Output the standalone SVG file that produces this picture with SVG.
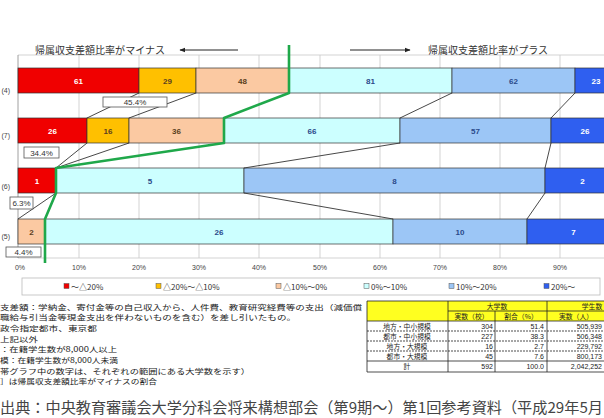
<svg xmlns="http://www.w3.org/2000/svg" width="604" height="418" viewBox="0 0 604 418">
<style>
.jp{font-family:"Noto Sans CJK JP","Noto Sans",sans-serif;}
.num{font-family:"Liberation Sans",Arial,sans-serif;}
.grid{stroke:#c8c8c8;stroke-width:0.8;}
.seg{stroke:#333;stroke-width:0.7;}
.r{fill:#f00000;}.y{fill:#ffc000;}.p{fill:#fbc9a2;}.c{fill:#ccffff;}.lb{fill:#9cc6f6;}.db{fill:#2f5ff0;}
.bt{font-family:"Liberation Sans",Arial,sans-serif;font-size:8px;font-weight:bold;text-anchor:middle;}
.w{fill:#fff;}.dk{fill:#5a4020;}.bl{fill:#2a4a8a;}
.conn{stroke:#333;stroke-width:0.9;fill:none;}
.pbox{fill:#fff;stroke:#555;stroke-width:0.8;}
.pt{font-family:"Liberation Sans",Arial,sans-serif;font-size:8px;fill:#333;text-anchor:middle;}
.ax{font-family:"Liberation Sans",Arial,sans-serif;font-size:7px;fill:#444;text-anchor:middle;}
.note{font-family:"Noto Sans CJK JP",sans-serif;font-size:7.3px;fill:#222;}
.tt{font-family:"Noto Sans CJK JP",sans-serif;font-size:6.8px;fill:#222;}
.tn{font-family:"Liberation Sans",Arial,sans-serif;font-size:7px;fill:#222;text-anchor:end;}
.tl{stroke:#222;stroke-width:0.8;}
.td{stroke:#222;stroke-width:0.8;stroke-dasharray:2,1;}
.lg{font-family:"Noto Sans CJK JP",sans-serif;font-size:8px;fill:#333;}
</style>
<defs>
<marker id="ah" viewBox="0 0 10 10" refX="9" refY="5" markerWidth="6" markerHeight="6" orient="auto-start-reverse">
<path d="M0,1 L10,5 L0,9 z" fill="#222"/>
</marker>
</defs>
<rect width="604" height="418" fill="#fff"/>

<g id="grid">
<line class="grid" x1="18" y1="55" x2="604" y2="55"/>
<line class="grid" x1="18" y1="258" x2="604" y2="258"/>
<line x1="18" y1="55" x2="18" y2="258" stroke="#888" stroke-width="0.8"/>
<line class="grid" x1="79" y1="55" x2="79" y2="258"/>
<line class="grid" x1="139" y1="55" x2="139" y2="258"/>
<line class="grid" x1="199" y1="55" x2="199" y2="258"/>
<line class="grid" x1="259" y1="55" x2="259" y2="258"/>
<line class="grid" x1="320" y1="55" x2="320" y2="258"/>
<line class="grid" x1="380" y1="55" x2="380" y2="258"/>
<line class="grid" x1="440" y1="55" x2="440" y2="258"/>
<line class="grid" x1="500" y1="55" x2="500" y2="258"/>
<line class="grid" x1="560" y1="55" x2="560" y2="258"/>
</g>

<g id="axis-labels">
<text class="ax" x="20" y="270">0%</text>
<text class="ax" x="79" y="270">10%</text>
<text class="ax" x="139" y="270">20%</text>
<text class="ax" x="199" y="270">30%</text>
<text class="ax" x="259" y="270">40%</text>
<text class="ax" x="320" y="270">50%</text>
<text class="ax" x="380" y="270">60%</text>
<text class="ax" x="440" y="270">70%</text>
<text class="ax" x="500" y="270">80%</text>
<text class="ax" x="560" y="270">90%</text>
</g>

<g id="row-labels" class="num" font-size="7" fill="#444" text-anchor="end">
<text x="10" y="93">(4)</text>
<text x="10" y="138">(7)</text>
<text x="10" y="189">(6)</text>
<text x="10" y="239">(5)</text>
</g>

<g id="direction-labels">
<text class="jp" x="35" y="53.5" font-size="10" fill="#333" textLength="130" lengthAdjust="spacingAndGlyphs">帰属収支差額比率がマイナス</text>
<line x1="238" y1="50" x2="180" y2="50" stroke="#222" stroke-width="1" marker-end="url(#ah)"/>
<line x1="350" y1="50" x2="410" y2="50" stroke="#222" stroke-width="1" marker-end="url(#ah)"/>
<text class="jp" x="428" y="53.5" font-size="10" fill="#333" textLength="120" lengthAdjust="spacingAndGlyphs">帰属収支差額比率がプラス</text>
</g>

<g id="bar-row1">
<rect class="seg r" x="18" y="68" width="121" height="25"/>
<rect class="seg y" x="139" y="68" width="57" height="25"/>
<rect class="seg p" x="196" y="68" width="93" height="25"/>
<rect class="seg c" x="289" y="68" width="163" height="25"/>
<rect class="seg lb" x="452" y="68" width="123" height="25"/>
<rect class="seg db" x="575" y="68" width="45" height="25"/>
<text class="bt w" x="78.5" y="83.5">61</text>
<text class="bt dk" x="167.5" y="83.5">29</text>
<text class="bt dk" x="242.5" y="83.5">48</text>
<text class="bt bl" x="370.5" y="83.5">81</text>
<text class="bt bl" x="513.5" y="83.5">62</text>
<text class="bt w" x="596" y="83.5">23</text>
</g>

<g id="bar-row2">
<rect class="seg r" x="18" y="118" width="69" height="25"/>
<rect class="seg y" x="87" y="118" width="42" height="25"/>
<rect class="seg p" x="129" y="118" width="95" height="25"/>
<rect class="seg c" x="224" y="118" width="176" height="25"/>
<rect class="seg lb" x="400" y="118" width="151" height="25"/>
<rect class="seg db" x="551" y="118" width="69" height="25"/>
<text class="bt w" x="52.5" y="133.5">26</text>
<text class="bt dk" x="108" y="133.5">16</text>
<text class="bt dk" x="176.5" y="133.5">36</text>
<text class="bt bl" x="312" y="133.5">66</text>
<text class="bt bl" x="475.5" y="133.5">57</text>
<text class="bt w" x="585" y="133.5">26</text>
</g>

<g id="bar-row3">
<rect class="seg r" x="18" y="168" width="38" height="25"/>
<rect class="seg c" x="56" y="168" width="188" height="25"/>
<rect class="seg lb" x="244" y="168" width="301" height="25"/>
<rect class="seg db" x="545" y="168" width="75" height="25"/>
<text class="bt w" x="37" y="183.5">1</text>
<text class="bt bl" x="150" y="183.5">5</text>
<text class="bt bl" x="394.5" y="183.5">8</text>
<text class="bt w" x="582.5" y="183.5">2</text>
</g>

<g id="bar-row4">
<rect class="seg p" x="18" y="219" width="27" height="25"/>
<rect class="seg c" x="45" y="219" width="348" height="25"/>
<rect class="seg lb" x="393" y="219" width="134" height="25"/>
<rect class="seg db" x="527" y="219" width="93" height="25"/>
<text class="bt dk" x="31.5" y="234.5">2</text>
<text class="bt bl" x="219" y="234.5">26</text>
<text class="bt bl" x="460" y="234.5">10</text>
<text class="bt w" x="573.5" y="234.5">7</text>
</g>

<g id="connectors">
<line class="conn" x1="139" y1="93" x2="87" y2="118"/>
<line class="conn" x1="196" y1="93" x2="129" y2="118"/>
<line class="conn" x1="452" y1="93" x2="400" y2="118"/>
<line class="conn" x1="575" y1="93" x2="551" y2="118"/>
<line class="conn" x1="87" y1="143" x2="56" y2="168"/>
<line class="conn" x1="129" y1="143" x2="56" y2="168"/>
<line class="conn" x1="400" y1="143" x2="244" y2="168"/>
<line class="conn" x1="551" y1="143" x2="545" y2="168"/>
<line class="conn" x1="56" y1="193" x2="18" y2="219"/>
<line class="conn" x1="244" y1="193" x2="393" y2="219"/>
<line class="conn" x1="545" y1="193" x2="527" y2="219"/>
<polyline points="289,45 289,93 224,118 224,143 56,168 56,193 45,219 45,263" fill="none" stroke="#1fa84a" stroke-width="2.6" stroke-linejoin="round"/>
</g>

<g id="pct-45">
<rect class="pbox" x="103" y="97" width="64" height="10"/>
<text class="pt" x="135" y="105">45.4%</text>
</g>
<g id="pct-34">
<rect class="pbox" x="24" y="147" width="35" height="11"/>
<text class="pt" x="41.5" y="155.5">34.4%</text>
</g>
<g id="pct-6">
<rect class="pbox" x="10" y="197" width="23" height="12"/>
<text class="pt" x="21.5" y="206">6.3%</text>
</g>
<g id="pct-4">
<rect class="pbox" x="6" y="247" width="35" height="10"/>
<text class="pt" x="23.5" y="255">4.4%</text>
</g>

<g id="legend">
<rect x="22" y="278" width="578" height="17" fill="#fff" stroke="#bbb" stroke-width="0.8"/>
<rect x="64" y="283.5" width="5" height="5" fill="#f00000" stroke="#555" stroke-width="0.5"/>
<text class="lg" x="71" y="289.5">～△20%</text>
<rect x="156" y="283.5" width="5" height="5" fill="#ffc000" stroke="#555" stroke-width="0.5"/>
<text class="lg" x="163" y="289.5">△20%～△10%</text>
<rect x="276" y="283.5" width="5" height="5" fill="#fbc9a2" stroke="#555" stroke-width="0.5"/>
<text class="lg" x="283" y="289.5">△10%～0%</text>
<rect x="364" y="283.5" width="5" height="5" fill="#ccffff" stroke="#555" stroke-width="0.5"/>
<text class="lg" x="371" y="289.5">0%～10%</text>
<rect x="449" y="283.5" width="5" height="5" fill="#9cc6f6" stroke="#555" stroke-width="0.5"/>
<text class="lg" x="456" y="289.5">10%～20%</text>
<rect x="544" y="283.5" width="5" height="5" fill="#2f5ff0" stroke="#555" stroke-width="0.5"/>
<text class="lg" x="551" y="289.5">20%～</text>
</g>

<g id="notes">
<text class="note" x="0" y="309.5" textLength="362" lengthAdjust="spacingAndGlyphs">支差額：学納金、寄付金等の自己収入から、人件費、教育研究経費等の支出（減価償</text>
<text class="note" x="0" y="320.2" textLength="296" lengthAdjust="spacingAndGlyphs">職給与引当金等現金支出を伴わないものを含む）を差し引いたもの。</text>
<text class="note" x="0" y="330.9" textLength="97" lengthAdjust="spacingAndGlyphs">政令指定都市、東京都</text>
<text class="note" x="0" y="341.6" textLength="38" lengthAdjust="spacingAndGlyphs">上記以外</text>
<text class="note" x="0" y="352.3" textLength="117" lengthAdjust="spacingAndGlyphs">：在籍学生数が8,000人以上</text>
<text class="note" x="0" y="363" textLength="118" lengthAdjust="spacingAndGlyphs">模：在籍学生数が8,000人未満</text>
<text class="note" x="0" y="373.7" textLength="250" lengthAdjust="spacingAndGlyphs">帯グラフ中の数字は、それぞれの範囲にある大学数を示す）</text>
<text class="note" x="0" y="384.4" textLength="157" lengthAdjust="spacingAndGlyphs">］は帰属収支差額比率がマイナスの割合</text>
</g>

<g id="table">
<rect x="367" y="301" width="240" height="20" fill="#ffff20"/>
<rect x="367" y="321" width="240" height="51" fill="#fff"/>
<line class="tl" x1="367" y1="301" x2="604" y2="301"/>
<line class="tl" x1="448" y1="311" x2="604" y2="311"/>
<line class="tl" x1="367" y1="321" x2="604" y2="321"/>
<line class="td" x1="367" y1="331" x2="604" y2="331"/>
<line class="td" x1="367" y1="341" x2="604" y2="341"/>
<line class="td" x1="367" y1="351" x2="604" y2="351"/>
<line class="tl" x1="367" y1="361" x2="604" y2="361"/>
<line class="tl" x1="367" y1="372" x2="604" y2="372"/>
<line class="tl" x1="367" y1="301" x2="367" y2="372"/>
<line class="tl" x1="448" y1="301" x2="448" y2="372"/>
<line class="tl" x1="495" y1="311" x2="495" y2="372"/>
<line class="tl" x1="547" y1="301" x2="547" y2="372"/>
<text class="tt" x="497" y="309" text-anchor="middle">大学数</text>
<text class="tt" x="592" y="309" text-anchor="middle">学生数</text>
<text class="tt" x="471.5" y="319" text-anchor="middle">実数（校）</text>
<text class="tt" x="521" y="319" text-anchor="middle">割合（%）</text>
<text class="tt" x="576" y="319" text-anchor="middle">実数（人）</text>
<text class="tt" x="407" y="328.5" text-anchor="middle">地方・中小規模</text>
<text class="tt" x="407" y="338.5" text-anchor="middle">都市・中小規模</text>
<text class="tt" x="407" y="348.5" text-anchor="middle">地方・大規模</text>
<text class="tt" x="407" y="358.5" text-anchor="middle">都市・大規模</text>
<text class="tt" x="407" y="369" text-anchor="middle">計</text>
<text class="tn" x="493" y="328.5">304</text>
<text class="tn" x="493" y="338.5">227</text>
<text class="tn" x="493" y="348.5">16</text>
<text class="tn" x="493" y="358.5">45</text>
<text class="tn" x="493" y="369">592</text>
<text class="tn" x="544" y="328.5">51.4</text>
<text class="tn" x="544" y="338.5">38.3</text>
<text class="tn" x="544" y="348.5">2.7</text>
<text class="tn" x="544" y="358.5">7.6</text>
<text class="tn" x="544" y="369">100.0</text>
<text class="tn" x="602" y="328.5">505,939</text>
<text class="tn" x="602" y="338.5">506,348</text>
<text class="tn" x="602" y="348.5">229,792</text>
<text class="tn" x="602" y="358.5">800,173</text>
<text class="tn" x="602" y="369">2,042,252</text>
</g>

<g id="source">
<text class="jp" x="0" y="413" font-size="15" fill="#444" textLength="603" lengthAdjust="spacingAndGlyphs">出典：中央教育審議会大学分科会将来構想部会（第9期～）第1回参考資料（平成29年5月</text>
</g>
</svg>
